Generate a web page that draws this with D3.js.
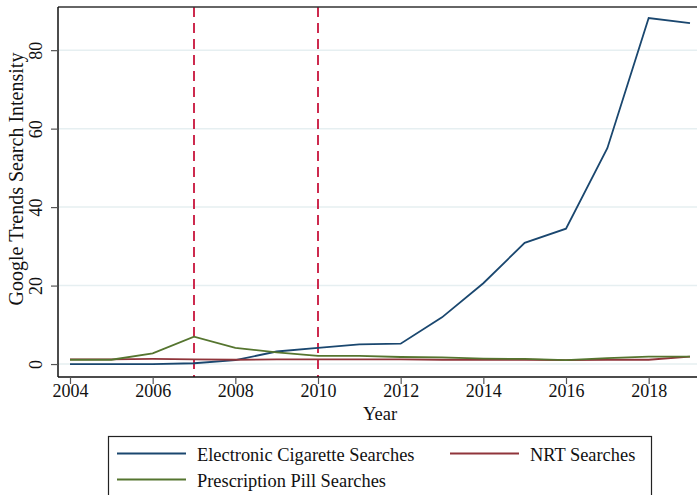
<!DOCTYPE html>
<html>
<head>
<meta charset="utf-8">
<script src="https://cdn.jsdelivr.net/npm/d3@7"></script>
<style>
  html, body { margin: 0; padding: 0; background: #fff; }
  svg { display: block; }
  text { font-family: "Liberation Serif", "Times New Roman", serif; fill: #111; }
</style>
</head>
<body>
<svg id="chart" width="697" height="495"></svg>
<script>
// Google Trends search intensity by year
const years = [2004, 2005, 2006, 2007, 2008, 2009, 2010, 2011, 2012, 2013, 2014, 2015, 2016, 2017, 2018, 2019];
const ecigSearches = [0, 0, 0, 0.2, 1.0, 3.2, 4.1, 5.0, 5.2, 11.9, 20.6, 30.9, 34.5, 55.0, 88.2, 86.9];
const nrtSearches = [1.2, 1.2, 1.3, 1.2, 1.1, 1.2, 1.2, 1.2, 1.2, 1.1, 1.1, 1.1, 1.0, 1.1, 1.1, 1.9];
const pillSearches = [1.1, 1.1, 2.7, 7.0, 4.1, 3.0, 2.1, 2.1, 1.8, 1.7, 1.4, 1.3, 1.0, 1.5, 1.9, 1.9];
const eventYears = [2007, 2010];
const xTicks = [2004, 2006, 2008, 2010, 2012, 2014, 2016, 2018];
const yTicks = [0, 20, 40, 60, 80];
const seriesNames = ["Electronic Cigarette Searches", "NRT Searches", "Prescription Pill Searches"];

const colors = { ecig: "#1a476f", nrt: "#90353b", pill: "#55752f", event: "#c8143c", grid: "#e6eff1" };

const svg = d3.select("#chart");
const plot = { left: 58, top: 7, right: 700, bottom: 377 };

const x = d3.scaleLinear().domain([2004, 2019]).range([70, 690]);
const y = d3.scaleLinear().domain([-3.3, 91]).range([plot.bottom, plot.top]);

// gridlines
svg.append("g").selectAll("line").data(yTicks).join("line")
  .attr("x1", plot.left).attr("x2", plot.right)
  .attr("y1", d => y(d)).attr("y2", d => y(d))
  .attr("stroke", colors.grid).attr("stroke-width", 1.5);

// event markers
svg.append("g").selectAll("line").data(eventYears).join("line")
  .attr("x1", d => x(d)).attr("x2", d => x(d))
  .attr("y1", plot.top).attr("y2", plot.bottom)
  .attr("stroke", colors.event).attr("stroke-width", 1.8)
  .attr("stroke-dasharray", "10,6");

// series lines
const series = [
  { key: "ecig", values: ecigSearches },
  { key: "nrt", values: nrtSearches },
  { key: "pill", values: pillSearches }
];
const line = d3.line().x((d, i) => x(years[i])).y(d => y(d));
svg.append("g").selectAll("path").data(series).join("path")
  .attr("d", d => line(d.values))
  .attr("fill", "none")
  .attr("stroke", d => colors[d.key])
  .attr("stroke-width", 1.8)
  .attr("stroke-linejoin", "miter");

// frame: top border
svg.append("line")
  .attr("x1", plot.left).attr("x2", plot.right)
  .attr("y1", plot.top).attr("y2", plot.top)
  .attr("stroke", "#333").attr("stroke-width", 1.5);

// x axis
const xAxis = svg.append("g")
  .attr("transform", `translate(0,${plot.bottom})`)
  .call(d3.axisBottom(x).tickValues(xTicks).tickFormat(d3.format("d")).tickSize(7).tickSizeOuter(0));
xAxis.select(".domain").attr("d", `M${plot.left},0H${plot.right}`).attr("stroke", "#111").attr("stroke-width", 1.5);
xAxis.selectAll(".tick line").attr("stroke", "#555").attr("stroke-width", 1.2);
xAxis.selectAll(".tick text")
  .attr("font-family", "Liberation Serif").attr("font-size", 18).attr("fill", "#111").attr("dy", "0.55em").attr("y", 10);

// y axis
const yAxis = svg.append("g")
  .attr("transform", `translate(${plot.left},0)`)
  .call(d3.axisLeft(y).tickValues(yTicks).tickSize(7).tickSizeOuter(0));
yAxis.select(".domain").attr("d", `M0,${plot.top}V${plot.bottom}`).attr("stroke", "#111").attr("stroke-width", 1.5);
yAxis.selectAll(".tick line").attr("stroke", "#555").attr("stroke-width", 1.2);
yAxis.selectAll(".tick text")
  .attr("font-family", "Liberation Serif").attr("font-size", 18).attr("fill", "#111")
  .attr("x", null).attr("dy", null)
  .attr("text-anchor", "middle")
  .attr("transform", "translate(-16,0) rotate(-90)");

// axis titles
svg.append("text")
  .attr("x", (70 + 690) / 2).attr("y", 420)
  .attr("text-anchor", "middle").attr("font-size", 18.5)
  .text("Year");
svg.append("text")
  .attr("transform", "translate(23,179) rotate(-90)")
  .attr("text-anchor", "middle").attr("font-size", 20)
  .text("Google Trends Search Intensity");

// legend
const legend = svg.append("g");
legend.append("rect")
  .attr("x", 108.5).attr("y", 436.5).attr("width", 543).attr("height", 80)
  .attr("fill", "#fff").attr("stroke", "#222").attr("stroke-width", 1.2);
const legendItems = [
  { key: "ecig", name: seriesNames[0], lx: 117, ly: 453.5 },
  { key: "nrt", name: seriesNames[1], lx: 450, ly: 453.5 },
  { key: "pill", name: seriesNames[2], lx: 117, ly: 479.5 }
];
const li = legend.selectAll("g.item").data(legendItems).join("g").attr("class", "item");
li.append("line")
  .attr("x1", d => d.lx).attr("x2", d => d.lx + 69)
  .attr("y1", d => d.ly).attr("y2", d => d.ly)
  .attr("stroke", d => colors[d.key]).attr("stroke-width", 1.8);
li.append("text")
  .attr("x", d => d.lx + 80).attr("y", d => d.ly + 7)
  .attr("font-size", 18.4)
  .text(d => d.name);
</script>
</body>
</html>
